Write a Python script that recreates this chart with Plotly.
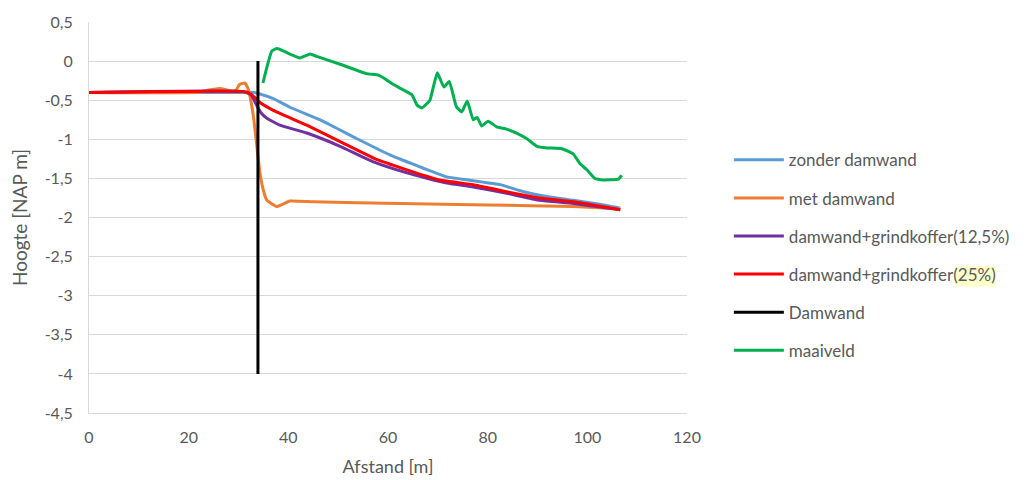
import plotly.graph_objects as go

# ---- data ----
zonder_x = [0, 31, 33, 34.3, 37, 40.3, 47, 53.7, 60.4, 67.1, 71.8, 77.1, 82.5, 87.2, 91.9, 97.2, 102.5, 106.6]
zonder_y = [-0.40, -0.40, -0.40, -0.42, -0.48, -0.59, -0.77, -0.99, -1.20, -1.37, -1.48, -1.53, -1.58, -1.67, -1.73, -1.78, -1.83, -1.88]

met_x = [0, 22, 24, 26.3, 28.5, 29.5, 30.2, 31.3, 32, 33, 34.3, 35.2, 35.7, 37.7, 40.3, 45, 62.4, 80, 97.2, 106.6]
met_y = [-0.40, -0.40, -0.37, -0.35, -0.38, -0.37, -0.30, -0.28, -0.37, -0.71, -1.43, -1.70, -1.78, -1.86, -1.79, -1.80, -1.82, -1.84, -1.86, -1.89]

g125_x = [0, 31, 32.5, 33.6, 34.5, 35.7, 38.3, 43.7, 50.4, 57.1, 63.8, 71.8, 77.1, 83.8, 90.5, 97.2, 106.6]
g125_y = [-0.40, -0.39, -0.43, -0.56, -0.66, -0.73, -0.82, -0.92, -1.09, -1.29, -1.43, -1.56, -1.61, -1.69, -1.78, -1.82, -1.90]

g25_x = [0, 31, 32.5, 34.3, 37, 43.7, 50.4, 57.1, 63.8, 70.4, 77.1, 83.8, 90.5, 97.2, 106.6]
g25_y = [-0.40, -0.39, -0.42, -0.53, -0.63, -0.82, -1.03, -1.24, -1.39, -1.52, -1.58, -1.67, -1.75, -1.80, -1.90]

damwand_x = [33.9, 33.9]
damwand_y = [0, -4]

maaiveld_x = [34.9, 36.7, 37.7, 39.0, 40.7, 42.3, 44.4, 45.7, 50.4, 55.7, 58.1, 59.7, 61.1, 63.1, 64.8,
              65.8, 66.8, 68.4, 69.1, 69.9, 71.2, 72.3, 73.7, 74.8, 75.9, 77.1, 77.9, 78.8, 80.1, 81.8,
              83.8, 85.8, 87.8, 89.9, 91.9, 94.9, 97.2, 98.5, 99.9, 101.5, 103.2, 106.2, 106.9]
maaiveld_y = [-0.28, 0.13, 0.16, 0.13, 0.08, 0.04, 0.09, 0.06, -0.04, -0.16, -0.18, -0.24, -0.30, -0.37, -0.43,
              -0.56, -0.60, -0.50, -0.33, -0.15, -0.33, -0.26, -0.58, -0.65, -0.51, -0.75, -0.72, -0.83, -0.77, -0.84,
              -0.87, -0.92, -0.99, -1.09, -1.11, -1.12, -1.19, -1.31, -1.39, -1.50, -1.52, -1.51, -1.46]

y_ticks = [0.5, 0, -0.5, -1, -1.5, -2, -2.5, -3, -3.5, -4, -4.5]
y_ticktext = ["0,5", "0", "-0,5", "-1", "-1,5", "-2", "-2,5", "-3", "-3,5", "-4", "-4,5"]
x_ticks = [0, 20, 40, 60, 80, 100, 120]

series = [
    ("zonder damwand", zonder_x, zonder_y, "#5B9BD5"),
    ("met damwand", met_x, met_y, "#ED7D31"),
    ("damwand+grindkoffer(12,5%)", g125_x, g125_y, "#7030A0"),
    ("damwand+grindkoffer(25%)", g25_x, g25_y, "#FF0000"),
    ("Damwand", damwand_x, damwand_y, "#000000"),
    ("maaiveld", maaiveld_x, maaiveld_y, "#00B050"),
]

FONT = "Lato, 'Open Sans', sans-serif"
TXT = "#595959"

fig = go.Figure()
for name, xs, ys, col in series:
    fig.add_trace(go.Scatter(x=xs, y=ys, mode="lines", name=name, legendgroup=name,
                             line=dict(color=col, width=3, shape="spline", smoothing=0.4)))

# light yellow highlight behind "25%" in the legend
fig.add_shape(type="rect", xref="paper", yref="paper", x0=1.449, x1=1.517, y0=0.323, y1=0.376,
              fillcolor="#FFFFCC", line=dict(width=0), layer="below")

fig.update_layout(
    width=1033, height=480,
    margin=dict(l=81, r=354, t=14, b=75),
    paper_bgcolor="white", plot_bgcolor="white",
    font=dict(family=FONT, color=TXT, size=14),
    separators=",.",
    legend=dict(x=1.07, xanchor="left", y=0.4035, yanchor="middle",
                font=dict(size=17, color=TXT, family=FONT), itemwidth=50,
                tracegroupgap=13, bgcolor="rgba(0,0,0,0)"),
    xaxis=dict(range=[0, 120], tickvals=x_ticks, showgrid=False, zeroline=False,
               showline=True, linecolor="#d9d9d9", linewidth=1, automargin=False,
               ticks="", tickfont=dict(size=16, color=TXT), ticklabelstandoff=10,
               title=dict(text="Afstand [m]", font=dict(size=18, color=TXT), standoff=15)),
    yaxis=dict(range=[-4.5, 0.5], tickvals=y_ticks, ticktext=y_ticktext,
               showgrid=True, gridcolor="#d9d9d9", gridwidth=1, zeroline=False,
               showline=True, linecolor="#d9d9d9", linewidth=1, automargin=False,
               ticks="", tickfont=dict(size=16, color=TXT), ticklabelstandoff=12,
               title=dict(text="Hoogte [NAP m]", font=dict(size=19, color=TXT), standoff=14)),
)

fig.write_html("out.html")
